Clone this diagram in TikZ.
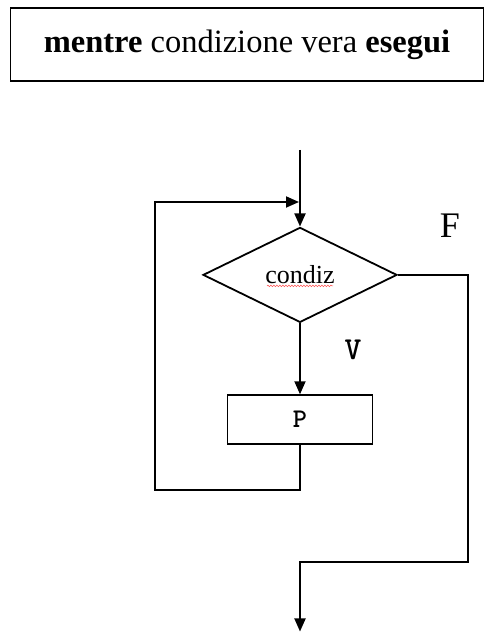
\documentclass[tikz,border=0pt]{standalone}
\usepackage{fontspec}
\setmainfont{Liberation Serif}
\usepackage{tikz}
\usetikzlibrary{
    shapes.geometric,
    arrows.meta,
    positioning,
    decorations.pathmorphing
}
\tikzset{
    titlebox/.style = {
        rectangle,
        draw,
        line width=1.8pt,
        minimum width=473pt,
        minimum height=73pt,
        align=center,
        font=\fontsize{32.5}{38}\selectfont
    },
    decision/.style = {
        diamond,
        draw,
        line width=1.8pt,
        inner sep=0pt,
        minimum width=194pt,
        minimum height=95pt,
        align=center,
        font=\fontsize{26}{30}\selectfont
    },
    process/.style = {
        rectangle,
        draw,
        line width=1.8pt,
        minimum width=145pt,
        minimum height=49pt,
        align=center,
        font=\ttfamily\bfseries\fontsize{27}{30}\selectfont
    },
    arrow/.style = {
        -{Triangle[length=13pt,width=11pt]},
        line width=1.8pt
    },
    branch/.style = {
        inner sep=0pt
    }
}

\begin{document}
\begin{tikzpicture}[x=1pt, y=1pt, line width=1.8pt]
\useasboundingbox (0,0) rectangle (484,632);
\node[titlebox] (title) at (247,587.5) {\textbf{mentre} condizione vera \textbf{esegui}};

\coordinate (in) at (300,482);
\node[decision, below=76.5pt of in] (cond) {condiz};
\node[process, below=71pt of cond] (body) {P};
\node[branch, font=\ttfamily\bfseries\fontsize{32}{32}\selectfont] (vero) at (353,282) {V};
\node[branch, font=\fontsize{36}{36}\selectfont] (falso) at (450,406) {F};

% loop back
\coordinate (loopbl) at (155,142);
\coordinate (looptl) at (155,430);
\coordinate (join) at (299,430);
% exit
\coordinate (exitr) at (468,70);
\coordinate (out) at (300,0.5);

\draw[arrow] (in) -- (cond.north);
\draw[arrow] (cond.south) -- (body.north);
\draw[arrow] (body.south) |- (loopbl) -- (looptl) -- (join);
\draw[arrow] (cond.east) -| (exitr) -| (out);
\draw[red!70, line width=0.5pt, decorate, decoration={snake, amplitude=0.8pt, segment length=3pt}]
    (cond.center) ++(-33,-11) -- ++(66,0);
\end{tikzpicture}
\end{document}
